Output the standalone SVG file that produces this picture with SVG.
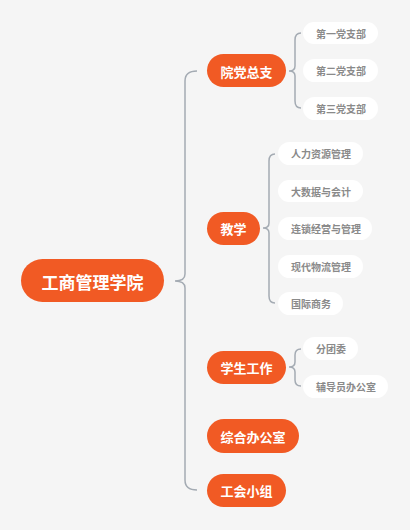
<svg xmlns="http://www.w3.org/2000/svg" width="410" height="530" viewBox="0 0 410 530">
<style>
.bg{fill:#f5f5f5}
.main rect{fill:#f15a24}
.main text{fill:#fff;font-family:"Noto Sans CJK SC","Noto Sans",sans-serif;font-weight:bold;text-anchor:middle;dominant-baseline:central}
.sub rect{fill:#fff}
.sub text{fill:#8a8a8a;font-family:"Noto Sans CJK SC","Noto Sans",sans-serif;font-weight:bold;font-size:10px;dominant-baseline:central}
.l1 text{font-size:13px}
.conn path{fill:none;stroke:#a4abb3;stroke-width:1.5}
</style>
<rect class="bg" x="0" y="0" width="410" height="530"/>
<g class="conn" id="connectors">
<path d="M197,71 Q185,71 185,81 V274 Q185,281 175,281 Q185,281 185,288 V480 Q185,490 197,490"/>
<path d="M301,33 Q295,33 295,40 V66 Q295,71 289,71 Q295,71 295,76 V101 Q295,108 301,108"/>
<path d="M275,154 Q269,154 269,161 V223 Q269,228 263,228 Q269,228 269,233 V296 Q269,303 275,303"/>
<path d="M301,349 Q295,349 295,355 V362 Q295,367 289,367 Q295,367 295,372 V380 Q295,386 301,386"/>
</g>
<g class="main" id="root"><rect x="21" y="259" width="143" height="43" rx="21.5"/><text x="92.5" y="281" font-size="17">工商管理学院</text></g>
<g class="main l1" id="n1"><rect x="207" y="54" width="79" height="33" rx="16.5"/><text x="246.5" y="71">院党总支</text></g>
<g class="main l1" id="n2"><rect x="207" y="212" width="53" height="33" rx="16.5"/><text x="233.5" y="228.5">教学</text></g>
<g class="main l1" id="n3"><rect x="207" y="351" width="79" height="33" rx="16.5"/><text x="246.5" y="367.5">学生工作</text></g>
<g class="main l1" id="n4"><rect x="207" y="419" width="92" height="34" rx="17"/><text x="253" y="436">综合办公室</text></g>
<g class="main l1" id="n5"><rect x="207" y="474" width="79" height="33" rx="16.5"/><text x="246.5" y="490.5">工会小组</text></g>
<g class="sub" id="n1a"><rect x="303" y="22" width="75" height="22" rx="11"/><text x="316" y="33">第一党支部</text></g>
<g class="sub" id="n1b"><rect x="303" y="59" width="75" height="23" rx="11.5"/><text x="316" y="70.5">第二党支部</text></g>
<g class="sub" id="n1c"><rect x="303" y="97" width="75" height="23" rx="11.5"/><text x="316" y="108.5">第三党支部</text></g>
<g class="sub" id="n2a"><rect x="278" y="142" width="85" height="23" rx="11.5"/><text x="291" y="153.5">人力资源管理</text></g>
<g class="sub" id="n2b"><rect x="278" y="180" width="85" height="22" rx="11"/><text x="291" y="191">大数据与会计</text></g>
<g class="sub" id="n2c"><rect x="278" y="217" width="94" height="23" rx="11.5"/><text x="291" y="228.5">连锁经营与管理</text></g>
<g class="sub" id="n2d"><rect x="278" y="255" width="85" height="23" rx="11.5"/><text x="291" y="266.5">现代物流管理</text></g>
<g class="sub" id="n2e"><rect x="278" y="292" width="65" height="23" rx="11.5"/><text x="291" y="303.5">国际商务</text></g>
<g class="sub" id="n3a"><rect x="303" y="337" width="55" height="23" rx="11.5"/><text x="316" y="348.5">分团委</text></g>
<g class="sub" id="n3b"><rect x="303" y="375" width="85" height="23" rx="11.5"/><text x="316" y="386.5">辅导员办公室</text></g>
</svg>
